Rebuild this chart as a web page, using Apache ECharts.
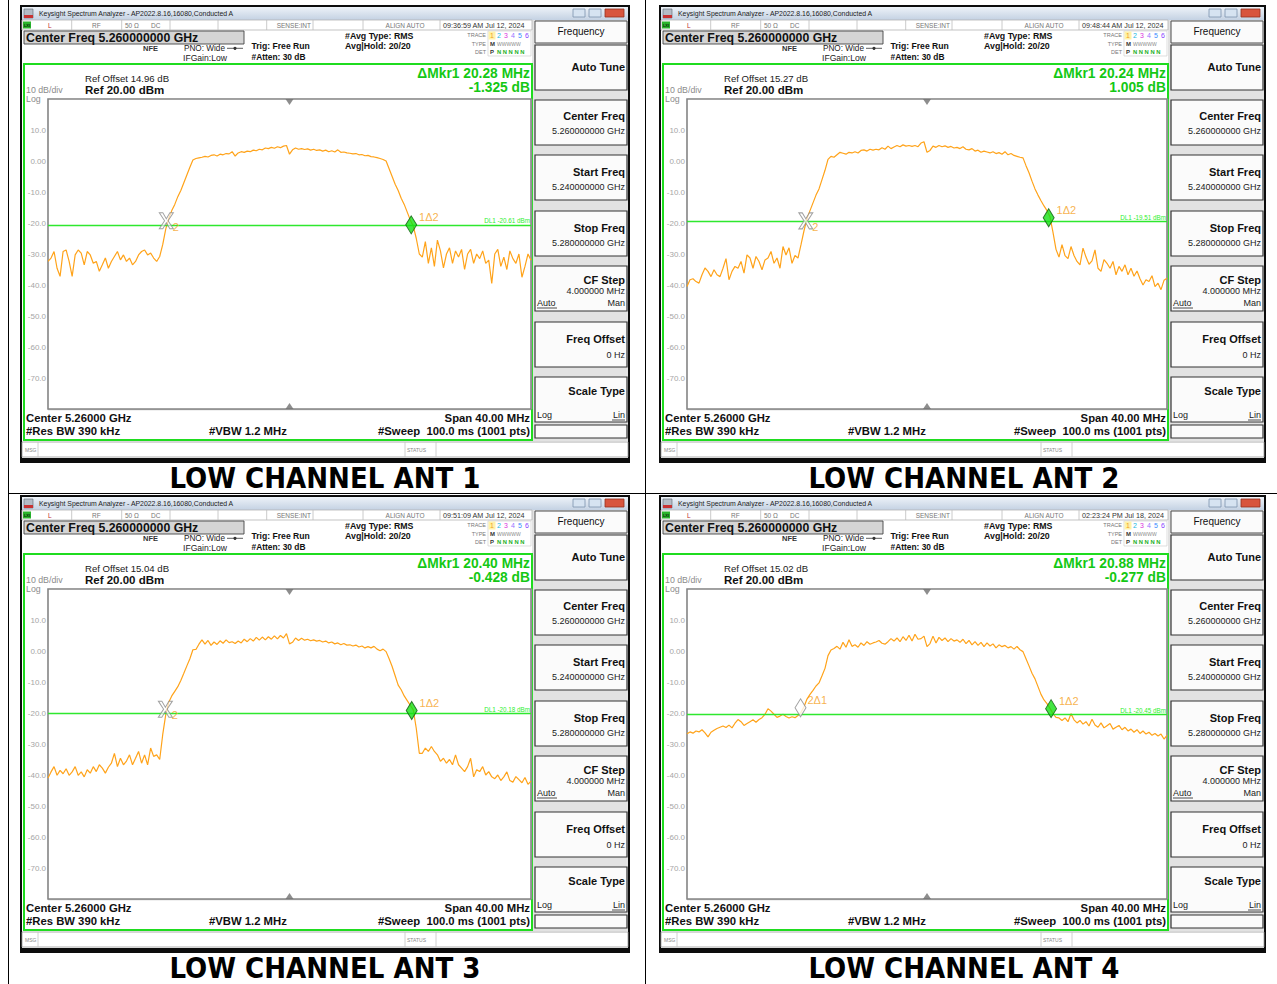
<!DOCTYPE html>
<html>
<head>
<meta charset="utf-8">
<script src="https://cdn.jsdelivr.net/npm/echarts@6/dist/echarts.min.js"></script>
<style>
  html, body { margin: 0; padding: 0; background: #ffffff; }
  #chart { width: 1277px; height: 984px; }
</style>
</head>
<body>
<div id="chart"></div>
<script>
// Sweep settings shared by the four captures (MHz)
const startMHz = 5240;
const stopMHz = 5280;
const stepMHz = 0.25;

const captions = ['LOW CHANNEL ANT 1', 'LOW CHANNEL ANT 2', 'LOW CHANNEL ANT 3', 'LOW CHANNEL ANT 4'];
const timestamps = ['09:36:59 AM Jul 12, 2024', '09:48:44 AM Jul 12, 2024', '09:51:09 AM Jul 12, 2024', '02:23:24 PM Jul 18, 2024'];
const refOffsets = ['14.96', '15.27', '15.04', '15.02'];
const deltaFreqMHz = [20.28, 20.24, 20.40, 20.88];
const deltaLevelDb = [-1.325, 1.005, -0.428, -0.277];
const displayLineDbm = [-20.61, -19.51, -20.18, -20.45];
const mkr2OffsetMHz = [9.80, 9.90, 9.72, 9.46];
const mkr1LevelDbm = [-20.6, -18.3, -19.2, -18.6];
const yTicks = [20, 10, 0, -10, -20, -30, -40, -50, -60, -70, -80];

// Trace 1 (RMS average), 161 points, 0.25 MHz apart, dBm
const traceAnt1 = [
  -32.4,-31.3,-29.2,-34.6,-37.2,-29.2,-28.7,-32.4,-37.2,-30.3,-28.7,-29.7,-33.5,-29.2,-30.3,-33.0,-32.4,-35.6,-33.5,-31.3,
  -34.6,-32.4,-30.8,-29.2,-31.9,-30.3,-32.4,-31.3,-33.5,-32.4,-30.3,-29.2,-28.7,-30.3,-29.7,-31.3,-32.4,-30.8,-27.0,-22.0,
  -18.5,-16.0,-14.0,-11.5,-9.5,-7.0,-4.5,-2.0,0.3,0.8,1.0,1.2,1.5,1.3,1.8,2.0,1.6,2.2,2.0,2.4,
  2.3,3.0,1.6,2.6,3.0,2.8,3.2,3.0,3.5,3.3,3.8,3.6,4.2,4.0,4.4,4.1,4.6,4.3,4.8,5.0,
  2.2,3.6,4.2,3.8,4.0,3.7,3.9,3.5,3.8,3.4,3.6,3.2,3.5,3.0,3.3,2.9,3.6,2.8,2.9,2.6,
  2.5,2.3,2.4,2.0,2.1,1.7,1.8,1.4,1.3,1.1,0.8,0.5,0.0,-2.5,-5.0,-7.5,-9.5,-12.0,-14.0,-16.5,
  -19.0,-21.0,-25.0,-30.0,-31.0,-26.0,-33.0,-28.0,-34.0,-25.5,-29.0,-34.5,-30.0,-28.0,-33.0,-29.0,-31.0,-28.5,-35.0,-30.0,
  -28.5,-33.0,-30.0,-31.5,-29.0,-33.0,-32.0,-39.5,-30.0,-28.5,-34.0,-31.0,-35.0,-29.0,-31.5,-33.0,-30.0,-37.5,-34.0,-30.0,
  -32.0
];
const traceAnt2 = [
  -40.5,-38.3,-38.0,-38.9,-39.4,-36.7,-34.5,-35.6,-37.3,-35.1,-36.7,-37.3,-34.6,-31.5,-38.3,-35.6,-34.0,-34.6,-32.4,-36.2,
  -30.3,-31.3,-34.6,-30.8,-32.4,-35.1,-31.9,-31.3,-29.2,-33.0,-31.3,-34.6,-27.6,-30.3,-28.0,-33.0,-30.5,-31.3,-27.0,-22.5,
  -18.5,-16.0,-13.5,-11.0,-9.0,-6.0,-3.0,0.5,1.5,1.2,2.0,2.8,2.5,2.2,2.8,2.6,3.0,2.6,3.4,3.6,
  3.2,3.8,3.5,3.8,3.6,4.3,3.8,4.8,4.0,4.5,5.0,4.6,5.2,4.8,5.0,4.7,5.0,4.6,5.8,6.2,
  2.8,3.4,4.8,4.4,5.0,4.6,4.9,4.4,4.7,4.2,4.4,4.0,4.6,3.8,3.6,4.0,3.2,3.5,2.8,3.2,
  2.9,2.6,3.0,2.4,2.7,2.2,3.0,2.0,2.4,1.8,1.5,1.2,1.0,-1.5,-3.8,-6.5,-9.0,-11.0,-12.8,-14.5,
  -16.0,-18.0,-23.0,-28.5,-31.0,-27.0,-30.5,-31.5,-27.6,-30.5,-32.4,-33.5,-28.1,-31.0,-33.3,-32.2,-28.7,-34.6,-35.6,-31.8,
  -33.0,-34.6,-32.4,-36.7,-34.0,-35.6,-33.5,-36.7,-34.6,-37.2,-35.5,-38.0,-40.0,-38.3,-38.9,-37.0,-40.5,-39.4,-41.5,-38.5,
  -37.8
];
const traceAnt3 = [
  -41.0,-39.0,-37.3,-40.1,-38.5,-39.6,-38.0,-40.1,-39.0,-37.3,-40.1,-39.0,-40.6,-38.3,-39.4,-37.3,-38.9,-36.7,-37.8,-39.4,
  -37.5,-36.2,-33.0,-37.3,-34.6,-36.7,-35.5,-33.5,-36.7,-34.6,-32.4,-36.2,-33.5,-36.7,-31.3,-34.0,-33.5,-35.0,-27.0,-20.5,
  -16.5,-14.5,-13.0,-11.5,-9.5,-7.2,-4.8,-2.5,0.4,0.5,2.2,3.6,2.2,3.4,1.8,2.9,2.1,3.3,2.5,3.6,
  2.7,3.0,2.4,3.2,2.6,3.8,3.0,4.0,3.2,4.4,3.5,4.5,3.6,4.6,3.8,4.9,3.9,5.0,4.2,5.6,
  2.3,2.8,4.2,3.4,4.1,3.5,3.8,3.3,3.6,3.2,3.4,2.9,3.2,2.6,2.9,2.3,2.6,2.0,2.4,1.9,
  2.0,1.6,1.9,1.3,1.6,1.0,1.4,1.0,1.5,0.6,0.1,0.6,-0.2,-2.5,-5.0,-8.0,-11.0,-12.5,-14.5,-16.0,
  -17.5,-19.0,-25.0,-33.0,-33.0,-31.3,-32.4,-30.8,-32.4,-33.5,-35.6,-34.6,-36.2,-35.0,-36.7,-33.5,-36.7,-37.8,-38.9,-37.3,
  -34.6,-40.6,-38.3,-38.9,-37.3,-40.0,-38.9,-40.6,-41.2,-40.0,-41.8,-40.6,-39.0,-41.8,-42.3,-40.5,-41.5,-42.5,-40.8,-43.0,
  -42.0
];
const traceAnt4 = [
  -26.7,-26.1,-26.5,-25.8,-26.1,-25.4,-26.4,-27.7,-26.2,-25.6,-25.0,-24.6,-24.2,-24.7,-23.9,-24.8,-23.3,-22.1,-22.8,-24.0,
  -23.4,-22.8,-22.2,-23.0,-22.1,-21.5,-20.4,-18.6,-19.4,-20.4,-21.4,-21.0,-20.4,-21.1,-21.6,-21.2,-21.5,-20.8,-19.8,-18.0,
  -15.5,-14.0,-12.7,-11.3,-10.3,-8.0,-5.6,-1.5,0.3,0.8,1.5,0.6,2.8,1.2,3.6,1.5,2.0,1.2,2.6,1.8,
  3.0,2.2,2.6,2.9,3.4,2.5,2.2,3.0,4.0,3.2,4.2,3.0,4.6,3.4,5.1,3.2,5.4,3.8,4.0,4.8,
  1.4,2.4,4.8,2.6,4.4,3.4,4.2,3.0,4.0,3.2,3.6,2.8,3.8,2.4,3.4,2.0,3.0,1.8,2.8,1.4,
  2.6,1.6,2.3,1.0,2.0,1.4,1.8,1.0,1.4,0.6,1.5,0.4,-0.2,-2.5,-4.8,-7.2,-9.0,-11.5,-14.0,-15.8,
  -17.0,-18.5,-20.2,-21.4,-21.6,-22.4,-21.6,-22.8,-20.2,-22.2,-23.2,-22.4,-23.6,-22.8,-24.2,-22.0,-23.9,-24.6,-23.2,-24.8,
  -24.1,-23.4,-25.2,-24.6,-24.0,-25.4,-24.6,-25.8,-25.2,-26.2,-25.4,-26.6,-25.8,-26.8,-26.2,-27.2,-26.6,-27.4,-26.8,-28.4,
  -27.2
];
const traces = [traceAnt1, traceAnt2, traceAnt3, traceAnt4];

// Panel placement: origin offsets and plot widths
const panelX = [0, 639, 0, 639];
const panelY = [0, 0, 490, 490];
const plotW = [483, 480, 483, 480];

const FONT = '"Liberation Sans", Arial, sans-serif';
const NARROW = '"Liberation Sans Narrow", "Arial Narrow", "DejaVu Sans Condensed", sans-serif';
const TRACE_COLOR = '#ffa31a';
const GREEN = '#1fdc1f';

function panelChrome(p) {
  const ox = panelX[p], oy = panelY[p], ex = plotW[p] - 483;
  const els = [];
  const rect = (x, y, w, h, style, z) => els.push({ type: 'rect', silent: true, z: z === undefined ? -6 : z,
    shape: { x: x, y: y, width: w, height: h }, style: style });
  const line = (x1, y1, x2, y2, stroke, lw, z) => els.push({ type: 'line', silent: true, z: z === undefined ? -4 : z,
    shape: { x1: x1, y1: y1, x2: x2, y2: y2 }, style: { stroke: stroke, lineWidth: lw || 1 } });
  const text = (x, y, s, o) => {
    o = o || {};
    els.push({ type: 'text', silent: true, z: 6, x: x, y: y,
      style: { text: s, fill: o.fill || '#111', fontSize: o.size || 8, fontWeight: o.bold ? 'bold' : 'normal',
        fontFamily: o.family || FONT, align: o.align || 'left', verticalAlign: 'middle' } });
  };
  const L = (x) => ox + x;
  const R = (x) => ox + ex + x;
  const Y = (y) => oy + y;

  // window frame and body
  rect(L(20), Y(5), 610 + ex, 458, { fill: '#0c0c0c' }, -10);
  rect(L(22), Y(7), 606 + ex, 451, { fill: '#ffffff' }, -9);
  // title bar
  rect(L(22), Y(7), 606 + ex, 13, { fill: { type: 'linear', x: 0, y: 0, x2: 0, y2: 1,
    colorStops: [{ offset: 0, color: '#edf2f8' }, { offset: 1, color: '#c4d2e3' }] } }, -8);
  rect(L(24), Y(9), 9, 9, { fill: '#b4bcc6', stroke: '#5a6470', lineWidth: 0.6 }, -7);
  rect(L(24), Y(15), 9, 3, { fill: '#c83232' }, -7);
  text(L(39), Y(13.5), 'Keysight Spectrum Analyzer - AP2022.8.16,16080,Conducted A', { size: 6.9, fill: '#1c1c1c' });
  rect(R(573), Y(9), 12, 8, { fill: '#d6e3f1', stroke: '#7c93ad', lineWidth: 0.8 }, -7);
  rect(R(589), Y(9), 12, 8, { fill: '#d6e3f1', stroke: '#7c93ad', lineWidth: 0.8 }, -7);
  rect(R(605), Y(9), 19, 8, { fill: '#d8553e', stroke: '#963020', lineWidth: 0.8 }, -7);

  // status row
  rect(L(22), Y(20), 510 + ex, 10, { fill: '#ffffff', stroke: '#b4b4b4', lineWidth: 0.8 }, -7);
  [71.7, 121.7, 170, 218, 266.7, 313, 363, 440].forEach((x) => line(L(x), Y(20), L(x), Y(30), '#bdbdbd', 0.8));
  rect(L(23), Y(21.5), 8, 7, { fill: '#2bb52b' }, -6);
  text(L(27), Y(25.2), 'LXI', { size: 4, fill: '#0a2a0a', align: 'center', bold: true });
  text(L(48), Y(25.2), 'L', { size: 6.5, fill: '#c02a2a' });
  text(L(92), Y(25.2), 'RF', { size: 6.5, fill: '#777' });
  text(L(125), Y(25.2), '50 Ω', { size: 6.5, fill: '#777' });
  text(L(151), Y(25.2), 'DC', { size: 6.5, fill: '#777' });
  text(L(311), Y(25.2), 'SENSE:INT', { size: 6.5, fill: '#777', align: 'right' });
  text(L(405), Y(25.2), 'ALIGN AUTO', { size: 6.5, fill: '#777', align: 'center' });
  text(L(443), Y(25.2), timestamps[p], { size: 7.2, fill: '#333' });

  // header block
  rect(L(24), Y(31), 220, 13, { fill: '#d5d5d5', stroke: '#444', lineWidth: 0.9 }, -7);
  text(L(26), Y(37.8), 'Center Freq 5.260000000 GHz', { size: 12.3, bold: true });
  text(L(143), Y(48.3), 'NFE', { size: 7.5, bold: true, fill: '#333' });
  text(L(184), Y(48.3), 'PNO: Wide', { size: 8.2, fill: '#222' });
  line(L(227), Y(48.3), L(243), Y(48.3), '#333', 0.8);
  els.push({ type: 'circle', silent: true, z: 6, shape: { cx: L(235), cy: Y(48.3), r: 1.6 }, style: { fill: '#333' } });
  text(L(183), Y(57.5), 'IFGain:Low', { size: 8.6, fill: '#222' });
  text(L(251.5), Y(45.5), 'Trig: Free Run', { size: 8.6, bold: true });
  text(L(251.5), Y(56.5), '#Atten: 30 dB', { size: 8.4, bold: true });
  text(L(345), Y(35.5), '#Avg Type: RMS', { size: 8.8, bold: true });
  text(L(345), Y(45.5), 'Avg|Hold: 20/20', { size: 8.8, bold: true });
  text(R(486), Y(35), 'TRACE', { size: 5.5, fill: '#777', align: 'right' });
  text(R(486), Y(43.5), 'TYPE', { size: 5.5, fill: '#777', align: 'right' });
  text(R(486), Y(52), 'DET', { size: 5.5, fill: '#777', align: 'right' });
  rect(R(488), Y(31), 43, 25, { fill: '#ffffff', stroke: '#d0d0d0', lineWidth: 0.7 }, -7);
  rect(R(488.5), Y(31.5), 7, 8, { fill: '#fff2a8' }, -6);
  const traceDigitColors = ['#f0a020', '#22b8e0', '#dd33dd', '#9a72ff', '#3a8cff', '#8a3cff'];
  traceDigitColors.forEach((c, k) => text(R(490 + k * 7), Y(35.5), String(k + 1), { size: 7, fill: c }));
  text(R(490), Y(43.5), 'M', { size: 6, bold: true, fill: '#333' });
  text(R(497), Y(43.5), 'WWWWW', { size: 5, fill: '#8a8a8a' });
  text(R(490), Y(51.5), 'P', { size: 6, bold: true, fill: '#333' });
  text(R(497), Y(51.5), 'N N N N N', { size: 5.8, bold: true, fill: '#25b025' });

  // measurement area outline
  rect(L(24), Y(64), 508 + ex, 376, { fill: 'none', stroke: GREEN, lineWidth: 2 }, -3);
  const mkrF = deltaFreqMHz[p].toFixed(2);
  const mkrL = deltaLevelDb[p].toFixed(3);
  text(R(530), Y(73), 'ΔMkr1 ' + mkrF + ' MHz', { size: 13.8, bold: true, fill: '#14c814', align: 'right' });
  text(R(530), Y(87), mkrL + ' dB', { size: 13.8, bold: true, fill: '#14c814', align: 'right' });
  text(L(85), Y(78), 'Ref Offset ' + refOffsets[p] + ' dB', { size: 9.6, fill: '#1a1a1a' });
  text(L(85), Y(89.5), 'Ref 20.00 dBm', { size: 11.5, bold: true });
  text(L(26), Y(89.8), '10 dB/div', { size: 8.8, fill: '#8c8c8c' });
  text(L(26), Y(99), 'Log', { size: 8.8, fill: '#8c8c8c' });
  text(L(26), Y(418), 'Center 5.26000 GHz', { size: 11.3, bold: true });
  text(R(530), Y(418), 'Span 40.00 MHz', { size: 11.3, bold: true, align: 'right' });
  text(L(26), Y(431), '#Res BW 390 kHz', { size: 11.3, bold: true });
  text(L(209), Y(431), '#VBW 1.2 MHz', { size: 11.3, bold: true });
  text(R(530), Y(431), '#Sweep  100.0 ms (1001 pts)', { size: 11.3, bold: true, align: 'right' });

  // message row
  rect(L(22), Y(442), 606 + ex, 15, { fill: '#ffffff', stroke: '#9a9a9a', lineWidth: 0.8 }, -7);
  line(L(38), Y(442), L(38), Y(457), '#c4c4c4', 0.8);
  line(R(405), Y(442), R(405), Y(457), '#c4c4c4', 0.8);
  line(R(436), Y(442), R(436), Y(457), '#c4c4c4', 0.8);
  text(L(25), Y(449.5), 'MSG', { size: 5, fill: '#888' });
  text(R(407), Y(449.5), 'STATUS', { size: 5, fill: '#888' });

  // softkey column
  rect(R(532), Y(20), 96, 421, { fill: '#e2e2e2' }, -8);
  rect(R(535), Y(21), 92, 22, { fill: '#fbfbfb', stroke: '#4a4a4a', lineWidth: 1 }, -7);
  text(R(581), Y(31.5), 'Frequency', { size: 10, align: 'center' });
  [45, 100, 155, 211, 266, 322, 377].forEach((t) =>
    rect(R(535), Y(t), 92, 45, { fill: '#fbfbfb', stroke: '#333', lineWidth: 1.2 }, -7));
  rect(R(535), Y(425), 92, 13, { fill: '#fbfbfb', stroke: '#333', lineWidth: 1.2 }, -7);
  const key = (y, s) => text(R(625), Y(y), s, { size: 11, bold: true, align: 'right' });
  const sub = (y, s) => text(R(625), Y(y), s, { size: 9, align: 'right', fill: '#222' });
  key(67, 'Auto Tune');
  key(116, 'Center Freq'); sub(131, '5.260000000 GHz');
  key(172, 'Start Freq'); sub(187, '5.240000000 GHz');
  key(228, 'Stop Freq'); sub(243, '5.280000000 GHz');
  key(280, 'CF Step'); sub(291, '4.000000 MHz');
  text(R(537), Y(303), 'Auto', { size: 9, fill: '#222' }); sub(303, 'Man');
  line(R(537), Y(308), R(557), Y(308), '#222', 0.8, 6);
  key(339, 'Freq Offset'); sub(355, '0 Hz');
  key(391, 'Scale Type');
  text(R(537), Y(415), 'Log', { size: 9, fill: '#222' }); sub(415, 'Lin');
  line(R(612), Y(420), R(625), Y(420), '#222', 0.8, 6);

  // caption under the capture
  text(L(325), Y(478), captions[p], { size: 29, bold: true, family: NARROW, align: 'center', fill: '#000' });
  return els;
}

const grids = [], xAxes = [], yAxes = [], series = [];
let graphics = [];

for (let p = 0; p < 4; p++) {
  grids.push({ left: 48 + panelX[p], top: 99 + panelY[p], width: plotW[p], height: 310,
    show: true, backgroundColor: '#ffffff', borderColor: '#858585', borderWidth: 1.6, z: 1 });
  xAxes.push({ type: 'value', gridIndex: p, min: startMHz, max: stopMHz, interval: 4,
    axisLine: { show: false }, axisTick: { show: false }, axisLabel: { show: false },
    splitLine: { show: true, lineStyle: { color: '#c2c2c2', width: 1.3 } } });
  yAxes.push({ type: 'value', gridIndex: p, min: -80, max: 20, interval: 10,
    axisLine: { show: false }, axisTick: { show: false },
    axisLabel: { show: true, margin: 2, color: '#a6a6a6', fontSize: 8, fontFamily: FONT,
      formatter: (v) => (v === yTicks[0] || v === yTicks[yTicks.length - 1]) ? '' : (v === 0 ? '0.00' : v.toFixed(1)) },
    splitLine: { show: true, lineStyle: { color: '#c2c2c2', width: 1.3 } } });

  const trace = traces[p].map((v, i) => [startMHz + i * stepMHz, v]);
  series.push({
    type: 'line', xAxisIndex: p, yAxisIndex: p, data: trace, symbol: 'none', showSymbol: false,
    lineStyle: { color: TRACE_COLOR, width: 1.2 }, silent: true, z: 3, animation: false,
    markLine: {
      silent: true, symbol: 'none', animation: false,
      lineStyle: { color: '#2ee82e', width: 1.3, type: 'solid' },
      label: { show: true, position: 'insideEndTop', distance: 1, color: '#2ef02e', fontSize: 6.3, fontFamily: FONT,
        formatter: 'DL1 ' + displayLineDbm[p].toFixed(2) + ' dBm' },
      data: [{ yAxis: displayLineDbm[p] }]
    }
  });

  // center-frequency indicators at top and bottom of the graticule
  series.push({
    type: 'scatter', xAxisIndex: p, yAxisIndex: p, silent: true, z: 4, animation: false,
    symbol: 'triangle', symbolSize: [8, 6], itemStyle: { color: '#707070' },
    data: [
      { value: [(startMHz + stopMHz) / 2, 20], symbolRotate: 180, symbolOffset: [0, 3] },
      { value: [(startMHz + stopMHz) / 2, -80], symbolOffset: [0, -3] }
    ]
  });

  // delta marker pair: marker 2 is the reference, marker 1 = marker 2 + delta
  const f2 = startMHz + mkr2OffsetMHz[p];
  const f1 = f2 + deltaFreqMHz[p];
  const l1 = mkr1LevelDbm[p];
  const l2 = l1 - deltaLevelDb[p];
  const refIsDiamond = (p === 3);
  series.push({
    type: 'scatter', xAxisIndex: p, yAxisIndex: p, silent: true, z: 5, animation: false,
    data: [[f2, l2]],
    symbol: refIsDiamond ? 'diamond' : 'path://M0,0L3,0L6,6L9,0L12,0L7.5,8L12,16L9,16L6,10L3,16L0,16L4.5,8Z',
    symbolSize: refIsDiamond ? [11, 18] : [14, 16],
    itemStyle: { color: refIsDiamond ? '#ffffff' : 'rgba(255,255,255,0.75)', borderColor: '#8a8a8a', borderWidth: 1 },
    label: { show: true, position: 'right', distance: 1, offset: refIsDiamond ? [0, -8] : [-2, 6],
      formatter: refIsDiamond ? '2Δ1' : '2', color: '#f5a021', fontSize: 11, fontFamily: FONT }
  });
  series.push({
    type: 'scatter', xAxisIndex: p, yAxisIndex: p, silent: true, z: 6, animation: false,
    data: [[f1, l1]],
    symbol: 'diamond', symbolSize: [11, 18],
    itemStyle: { color: '#14e014', borderColor: '#0b5a0b', borderWidth: 1 },
    label: { show: true, position: 'right', distance: 2, offset: [0, -8],
      formatter: '1Δ2', color: '#f5a021', fontSize: 11, fontFamily: FONT }
  });

  graphics = graphics.concat(panelChrome(p));
}

// table rules separating the four captures
graphics.push({ type: 'line', silent: true, z: -20, shape: { x1: 8.5, y1: 0, x2: 8.5, y2: 984 }, style: { stroke: '#000', lineWidth: 1 } });
graphics.push({ type: 'line', silent: true, z: -20, shape: { x1: 645.5, y1: 0, x2: 645.5, y2: 984 }, style: { stroke: '#000', lineWidth: 1 } });
graphics.push({ type: 'line', silent: true, z: -20, shape: { x1: 8, y1: 493.5, x2: 1277, y2: 493.5 }, style: { stroke: '#000', lineWidth: 1 } });

const chart = echarts.init(document.getElementById('chart'), null, { renderer: 'svg', width: 1277, height: 984 });
chart.setOption({
  animation: false,
  backgroundColor: '#ffffff',
  grid: grids,
  xAxis: xAxes,
  yAxis: yAxes,
  series: series,
  graphic: { elements: graphics }
});
</script>
</body>
</html>
